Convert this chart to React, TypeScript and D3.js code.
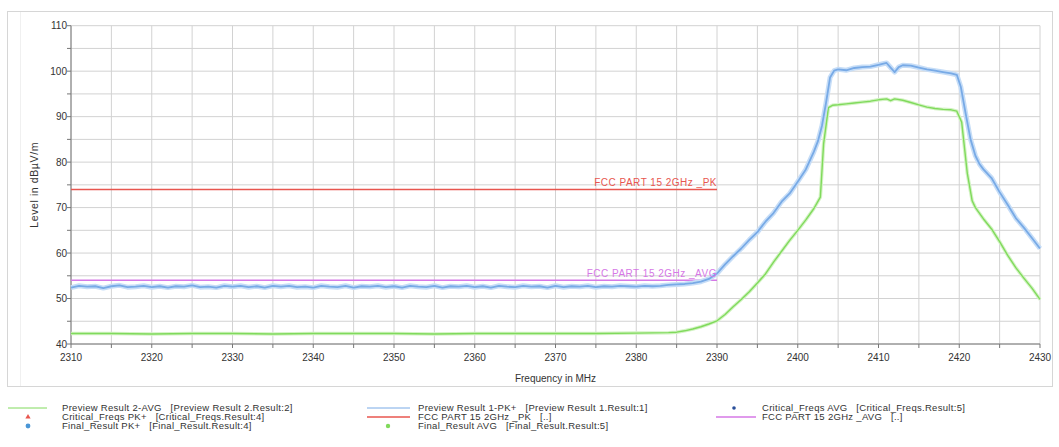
import React from "react";
import * as d3 from "d3";

// ---------- data ----------
const xTicksMajor = [2310, 2320, 2330, 2340, 2350, 2360, 2370, 2380, 2390, 2400, 2410, 2420, 2430];
const yTicksMajor = [40, 50, 60, 70, 80, 90, 100, 110];

// Preview Result 1-PK+ (blue)
const pkFreq = [
  2310, 2311, 2312, 2313, 2314, 2315, 2316, 2317, 2318, 2319, 2320, 2321, 2322, 2323, 2324, 2325, 2326, 2327, 2328, 2329,
  2330, 2331, 2332, 2333, 2334, 2335, 2336, 2337, 2338, 2339, 2340, 2341, 2342, 2343, 2344, 2345, 2346, 2347, 2348, 2349,
  2350, 2351, 2352, 2353, 2354, 2355, 2356, 2357, 2358, 2359, 2360, 2361, 2362, 2363, 2364, 2365, 2366, 2367, 2368, 2369,
  2370, 2371, 2372, 2373, 2374, 2375, 2376, 2377, 2378, 2379, 2380, 2381, 2382, 2383, 2384, 2385, 2386, 2387, 2388, 2389,
  2390, 2391, 2392, 2393, 2394, 2395, 2396, 2397, 2398, 2399, 2400, 2401, 2402, 2402.5, 2403, 2403.5, 2404, 2404.5, 2405,
  2406, 2407, 2408, 2409, 2410, 2411, 2411.5, 2412, 2412.5, 2413, 2414, 2415, 2416, 2417, 2418, 2419, 2419.7, 2420.2,
  2420.8, 2421.4, 2422, 2422.5, 2423, 2424, 2425, 2426, 2427, 2428, 2429, 2430,
];
const pkLevel = [
  52.4, 52.8, 52.6, 52.7, 52.3, 52.7, 52.9, 52.5, 52.6, 52.8, 52.5, 52.7, 52.4, 52.7, 52.6, 52.9, 52.5, 52.6, 52.4, 52.8,
  52.6, 52.8, 52.5, 52.7, 52.4, 52.8, 52.6, 52.8, 52.5, 52.6, 52.4, 52.8, 52.6, 52.5, 52.8, 52.4, 52.7, 52.6, 52.8, 52.5,
  52.7, 52.4, 52.8, 52.6, 52.5, 52.8, 52.4, 52.7, 52.6, 52.8, 52.5, 52.7, 52.4, 52.8, 52.6, 52.5, 52.8, 52.6, 52.7, 52.4,
  52.8, 52.5, 52.7, 52.6, 52.8, 52.5, 52.7, 52.6, 52.8, 52.7, 52.6, 52.8, 52.7, 52.8, 53.0, 53.1, 53.2, 53.4, 53.7, 54.3,
  55.5, 57.5, 59.3, 61.0, 62.9, 64.6, 66.9, 68.8, 71.3, 73.1, 75.7, 78.4, 82.3, 84.6, 88.0, 93.0, 98.6, 100.1, 100.4,
  100.2, 100.7, 100.9, 101.0, 101.4, 101.8, 100.8, 99.8, 100.9, 101.3, 101.2, 100.8, 100.4, 100.1, 99.8, 99.5, 99.2, 96.5,
  90.6, 85.0, 81.4, 79.6, 78.4, 76.5, 73.4, 70.6, 67.7, 65.6, 63.3, 61.0,
];

// Preview Result 2-AVG (green)
const avgFreq = [
  2310, 2315, 2320, 2325, 2330, 2335, 2340, 2345, 2350, 2355, 2360, 2365, 2370, 2375, 2380, 2384,
  2385, 2386, 2387, 2388, 2389, 2390, 2391, 2392, 2393, 2394, 2395, 2396, 2397, 2398, 2399, 2400, 2401, 2402,
  2402.8, 2403.2, 2403.8, 2404.3, 2405, 2406, 2407, 2408, 2409, 2410, 2411, 2411.5, 2412, 2413, 2414, 2415, 2416,
  2417, 2418, 2419, 2419.7, 2420.3, 2421, 2421.6, 2422, 2423, 2424, 2425, 2426, 2427, 2428, 2429, 2430,
];
const avgLevel = [
  42.3, 42.3, 42.2, 42.3, 42.3, 42.2, 42.3, 42.3, 42.3, 42.2, 42.3, 42.3, 42.3, 42.3, 42.4, 42.5,
  42.6, 42.9, 43.3, 43.8, 44.4, 45.1, 46.5, 48.2, 49.8, 51.5, 53.4, 55.4, 58.0, 60.4, 62.8, 65.0, 67.3, 69.8,
  72.3, 84.0, 92.0, 92.5, 92.6, 92.8, 93.0, 93.2, 93.4, 93.7, 93.9, 93.5, 93.9, 93.6, 93.1, 92.6, 92.1,
  91.8, 91.6, 91.5, 91.2, 88.8, 77.5, 71.5, 70.0, 67.5, 65.3, 62.5, 59.5, 56.8, 54.5, 52.3, 49.8,
];

// Limit lines
const limitFreq = [2310, 2390];
const limitPk = [74, 74];
const limitAvg = [54, 54];

// Legend
const legendCol1 = [
  "Preview Result 2-AVG   [Preview Result 2.Result:2]",
  "Critical_Freqs PK+   [Critical_Freqs.Result:4]",
  "Final_Result PK+   [Final_Result.Result:4]",
];
const legendCol2 = [
  "Preview Result 1-PK+   [Preview Result 1.Result:1]",
  "FCC PART 15 2GHz _PK   [..]",
  "Final_Result AVG   [Final_Result.Result:5]",
];
const legendCol3 = [
  "Critical_Freqs AVG   [Critical_Freqs.Result:5]",
  "FCC PART 15 2GHz _AVG   [..]",
];

// ---------- chart ----------
const W = 1059;
const H = 447;
const FONT = "'Liberation Sans', Arial, sans-serif";

const BLUE = "#78aae6";
const BLUE_HALO = "#c6ddf7";
const GREEN = "#80da5c";
const GREEN_HALO = "#d3f3c4";
const RED = "#e8564f";
const MAGENTA = "#d678e6";

export default function App() {
  const x = d3.scaleLinear().domain([2310, 2430]).range([71, 1040]);
  const y = d3.scaleLinear().domain([40, 110]).range([344, 25.7]);

  const line = d3
    .line<[number, number]>()
    .x((d) => x(d[0]))
    .y((d) => y(d[1]));

  const pkPts = pkFreq.map((f, i) => [f, pkLevel[i]] as [number, number]);
  const avgPts = avgFreq.map((f, i) => [f, avgLevel[i]] as [number, number]);
  const limPkPts = limitFreq.map((f, i) => [f, limitPk[i]] as [number, number]);
  const limAvgPts = limitFreq.map((f, i) => [f, limitAvg[i]] as [number, number]);

  const xGrid = d3.range(2310, 2431, 5);
  const yGrid = d3.range(40, 111, 5);

  const rowY = [408, 417, 426];
  const legFont = 9.5;
  const legLS = 0.3;

  return (
    <svg
      width={W}
      height={H}
      style={{ position: "absolute", left: 0, top: 0, background: "#fff" }}
      fontFamily={FONT}
    >
      {/* frame */}
      <rect x={7.5} y={11.5} width={1045} height={375} fill="none" stroke="#d6d6d6" />
      <line x1={20.5} x2={20.5} y1={12} y2={386} stroke="#f0f0f0" />

      {/* grid */}
      {xGrid.map((v) => (
        <line key={"gx" + v} x1={x(v)} x2={x(v)} y1={y(110)} y2={y(40)} stroke="#d2d2d2" strokeWidth={1} />
      ))}
      {yGrid.map((v) => (
        <line key={"gy" + v} x1={x(2310)} x2={x(2430)} y1={y(v)} y2={y(v)} stroke="#d2d2d2" strokeWidth={1} />
      ))}

      {/* axes */}
      <line x1={x(2310)} x2={x(2310)} y1={y(110)} y2={y(40)} stroke="#777" />
      <line x1={x(2310)} x2={x(2430)} y1={y(40)} y2={y(40)} stroke="#777" />
      {yGrid.map((v) => (
        <line key={"ty" + v} x1={x(2310) - 4} x2={x(2310)} y1={y(v)} y2={y(v)} stroke="#777" />
      ))}
      {xGrid.map((v) => (
        <line key={"tx" + v} x1={x(v)} x2={x(v)} y1={y(40)} y2={y(40) + 4} stroke="#777" />
      ))}
      {yTicksMajor.map((v) => (
        <text key={"ly" + v} x={x(2310) - 4} y={y(v) + 3.5} fontSize={10} textAnchor="end" fill="#333">
          {v}
        </text>
      ))}
      {xTicksMajor.map((v) => (
        <text key={"lx" + v} x={x(v)} y={361} fontSize={10} textAnchor="middle" fill="#333">
          {v}
        </text>
      ))}
      <text x={(x(2310) + x(2430)) / 2} y={382} fontSize={10} textAnchor="middle" fill="#333">
        Frequency in MHz
      </text>
      <text
        transform={`translate(38, ${(y(40) + y(110)) / 2}) rotate(-90)`}
        fontSize={10.5}
        letterSpacing={0.6}
        textAnchor="middle"
        fill="#333"
      >
        Level in dBµV/m
      </text>

      {/* limit lines */}
      <path d={line(limPkPts) || ""} fill="none" stroke={RED} strokeWidth={1.5} />
      <path d={line(limAvgPts) || ""} fill="none" stroke={MAGENTA} strokeWidth={1.5} />

      {/* traces */}
      <path d={line(avgPts) || ""} fill="none" stroke={GREEN_HALO} strokeWidth={3.5} strokeLinejoin="round" />
      <path d={line(avgPts) || ""} fill="none" stroke={GREEN} strokeWidth={1.4} strokeLinejoin="round" />
      <path d={line(pkPts) || ""} fill="none" stroke={BLUE_HALO} strokeWidth={5} strokeLinejoin="round" />
      <path d={line(pkPts) || ""} fill="none" stroke={BLUE} strokeWidth={1.8} strokeLinejoin="round" />

      {/* limit labels */}
      <text x={x(2390)} y={y(74) - 3} fontSize={10} letterSpacing={0.5} textAnchor="end" fill={RED}>
        FCC PART 15 2GHz _PK
      </text>
      <text x={x(2390)} y={y(54) - 3} fontSize={10} letterSpacing={0.5} textAnchor="end" fill={MAGENTA}>
        FCC PART 15 2GHz _AVG
      </text>

      {/* legend column 1 */}
      <line x1={8} x2={47} y1={rowY[0]} y2={rowY[0]} stroke={GREEN} strokeWidth={1} />
      <path d={d3.symbol(d3.symbolTriangle, 12)() || ""} transform={`translate(28, ${rowY[1]})`} fill={RED} />
      <circle cx={28} cy={rowY[2]} r={2.4} fill="#4a96d6" />
      {legendCol1.map((t, i) => (
        <text key={"l1" + i} x={62} y={rowY[i] + 3.3} fontSize={legFont} letterSpacing={legLS} fill="#333" xmlSpace="preserve">
          {t}
        </text>
      ))}

      {/* legend column 2 */}
      <line x1={367} x2={410} y1={rowY[0]} y2={rowY[0]} stroke={BLUE} strokeWidth={1} />
      <line x1={367} x2={410} y1={rowY[1]} y2={rowY[1]} stroke={RED} strokeWidth={1.5} />
      <circle cx={388} cy={rowY[2]} r={2.2} fill={GREEN} />
      {legendCol2.map((t, i) => (
        <text key={"l2" + i} x={418} y={rowY[i] + 3.3} fontSize={legFont} letterSpacing={legLS} fill="#333" xmlSpace="preserve">
          {t}
        </text>
      ))}

      {/* legend column 3 */}
      <circle cx={734} cy={rowY[0]} r={1.8} fill="#2a4f9a" />
      <line x1={716} x2={756} y1={rowY[1]} y2={rowY[1]} stroke={MAGENTA} strokeWidth={1.5} />
      {legendCol3.map((t, i) => (
        <text key={"l3" + i} x={762} y={rowY[i] + 3.3} fontSize={legFont} letterSpacing={legLS} fill="#333" xmlSpace="preserve">
          {t}
        </text>
      ))}
    </svg>
  );
}
